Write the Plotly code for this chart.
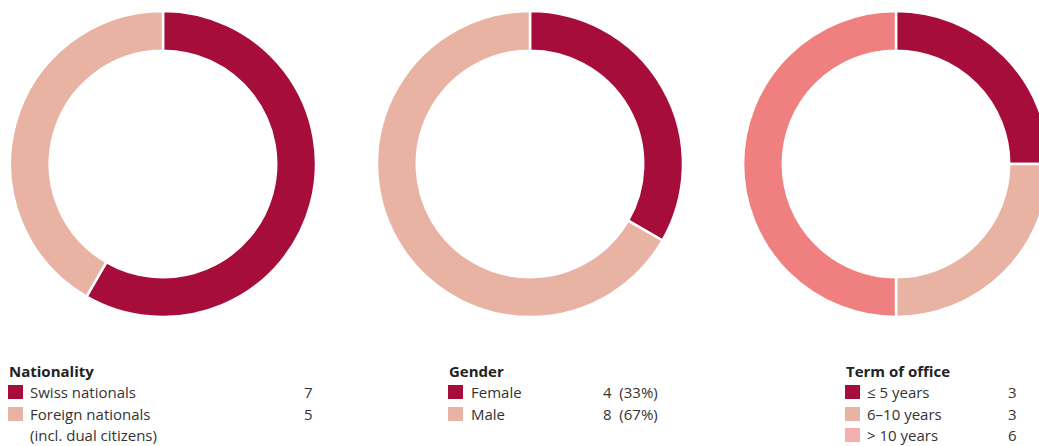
import plotly.graph_objects as go

# ---- data ----
nat_labels = ["Swiss nationals", "Foreign nationals"]
nat_values = [7, 5]
nat_value_text = ["7", "5"]

gender_labels = ["Female", "Male"]
gender_values = [4, 8]
gender_value_text = ["4  (33%)", "8  (67%)"]

term_labels = ["≤ 5 years", "6–10 years", "> 10 years"]
term_values = [3, 3, 6]
term_value_text = ["3", "3", "6"]

titles = ["Nationality", "Gender", "Term of office"]

# ---- styling ----
DARK = "#A60D3A"
SALMON = "#E8B3A3"
PINK = "#F07F7F"
PINK_LEGEND = "#F6AEAE"
TEXT = "#333333"
FONT = "Open Sans"

W, H = 1060, 446
R = 153
CY = 164
centers = [163, 530, 896]

def dom(cx):
    return dict(x=[(cx - R) / W, (cx + R) / W],
                y=[(H - (CY + R)) / H, (H - (CY - R)) / H])

fig = go.Figure()
pie_specs = [
    (nat_labels, nat_values, [DARK, SALMON]),
    (gender_labels, gender_values, [DARK, SALMON]),
    (term_labels, term_values, [DARK, SALMON, PINK]),
]
for (labels, values, colors), cx in zip(pie_specs, centers):
    fig.add_trace(go.Pie(
        labels=labels, values=values, hole=0.74, sort=False,
        direction="clockwise", rotation=0,
        marker=dict(colors=colors, line=dict(color="white", width=2.5)),
        textinfo="none", hoverinfo="label+value", showlegend=False,
        domain=dom(cx),
    ))

annotations = []
shapes = []

def px_x(x):
    return x / W

def px_y(y):
    return (H - y) / H

legend_blocks = [
    (9, 30, 313, nat_labels, nat_value_text, [DARK, SALMON]),
    (449, 471, 658, gender_labels, gender_value_text, [DARK, SALMON]),
    (846, 867, 1017, term_labels, term_value_text, [DARK, SALMON, PINK_LEGEND]),
]
row_y = [392, 414, 435]
title_y = 371

for title, (x0, xt, xv, labels, vals, cols) in zip(titles, legend_blocks):
    annotations.append(dict(
        x=px_x(x0 - 2), y=px_y(title_y), xref="paper", yref="paper",
        text="<b>" + title + "</b>", showarrow=False, xanchor="left",
        yanchor="middle", font=dict(family=FONT, size=15, color="#222222")))
    for i, (lab, val, col) in enumerate(zip(labels, vals, cols)):
        yc = row_y[i]
        shapes.append(dict(type="rect", xref="paper", yref="paper",
                           x0=px_x(x0 - 1), x1=px_x(x0 + 14),
                           y0=px_y(yc - 7), y1=px_y(yc + 7),
                           fillcolor=col, line=dict(width=0)))
        annotations.append(dict(
            x=px_x(xt - 2), y=px_y(yc), xref="paper", yref="paper",
            text=lab, showarrow=False, xanchor="left", yanchor="middle",
            font=dict(family=FONT, size=15, color=TEXT)))
        annotations.append(dict(
            x=px_x(xv + 2), y=px_y(yc), xref="paper", yref="paper",
            text=val, showarrow=False, xanchor="right", yanchor="middle",
            font=dict(family=FONT, size=15, color=TEXT)))

# extra line for nationality
annotations.append(dict(
    x=px_x(28), y=px_y(row_y[2]), xref="paper", yref="paper",
    text="(incl. dual citizens)", showarrow=False, xanchor="left",
    yanchor="middle", font=dict(family=FONT, size=15, color=TEXT)))

fig.update_layout(
    width=W, height=H,
    margin=dict(l=0, r=0, t=0, b=0),
    paper_bgcolor="white", plot_bgcolor="white",
    annotations=annotations, shapes=shapes,
)

fig.write_html(
    "out.html",
    config={"displayModeBar": False},
    post_script="document.body.style.margin='0';document.body.style.overflow='hidden';"
                "document.documentElement.style.overflow='hidden';",
)
